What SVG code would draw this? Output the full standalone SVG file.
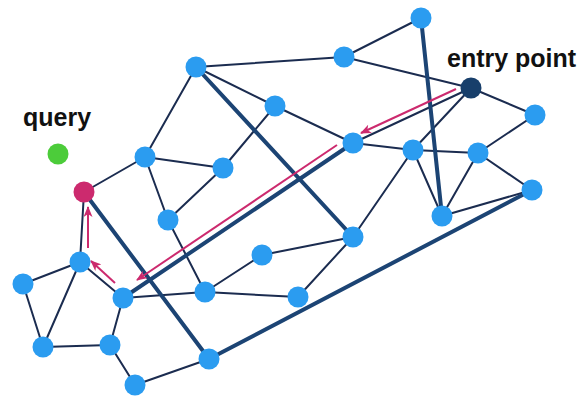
<svg xmlns="http://www.w3.org/2000/svg" width="583" height="397" viewBox="0 0 583 397">
<defs>
<style>
.thin{stroke:#1b2c50;stroke-width:2;fill:none;stroke-linecap:round}
.thick{stroke:#1c4474;stroke-width:4;fill:none;stroke-linecap:round}
.path{stroke:#cc2a6e;stroke-width:2;fill:none}
.n{fill:#2b9cf0}
.lbl{font-family:"Liberation Sans",Arial,sans-serif;font-weight:bold;font-size:25px;fill:#111}
</style>
<marker id="ah" viewBox="0 0 11 9" refX="10" refY="4.5" markerWidth="11" markerHeight="9" markerUnits="userSpaceOnUse" orient="auto">
<path d="M0,0 L11,4.5 L0,9 L3,4.5 Z" fill="#cc2a6e"/>
</marker>
</defs>
<rect width="583" height="397" fill="#fff"/>
<g id="connectors">
<line class="thin" x1="421" y1="18" x2="344" y2="57"/>
<line class="thin" x1="344" y1="57" x2="196" y2="67"/>
<line class="thin" x1="344" y1="57" x2="471" y2="88"/>
<line class="thin" x1="196" y1="67" x2="275" y2="106"/>
<line class="thin" x1="196" y1="67" x2="145" y2="157"/>
<line class="thin" x1="275" y1="106" x2="353" y2="143"/>
<line class="thin" x1="275" y1="106" x2="223" y2="168"/>
<line class="thin" x1="145" y1="157" x2="223" y2="168"/>
<line class="thin" x1="145" y1="157" x2="84" y2="192"/>
<line class="thin" x1="145" y1="157" x2="168" y2="220"/>
<line class="thin" x1="223" y1="168" x2="168" y2="220"/>
<line class="thin" x1="353" y1="143" x2="413" y2="150"/>
<line class="thin" x1="353" y1="143" x2="471" y2="88"/>
<line class="thin" x1="471" y1="88" x2="535" y2="115"/>
<line class="thin" x1="471" y1="88" x2="413" y2="150"/>
<line class="thin" x1="535" y1="115" x2="478" y2="153"/>
<line class="thin" x1="413" y1="150" x2="478" y2="153"/>
<line class="thin" x1="413" y1="150" x2="442" y2="216"/>
<line class="thin" x1="413" y1="150" x2="353" y2="237"/>
<line class="thin" x1="478" y1="153" x2="442" y2="216"/>
<line class="thin" x1="478" y1="153" x2="532" y2="190"/>
<line class="thin" x1="442" y1="216" x2="532" y2="190"/>
<line class="thin" x1="168" y1="220" x2="205" y2="292"/>
<line class="thin" x1="123" y1="298" x2="205" y2="292"/>
<line class="thin" x1="205" y1="292" x2="262" y2="255"/>
<line class="thin" x1="205" y1="292" x2="298" y2="297"/>
<line class="thin" x1="262" y1="255" x2="353" y2="237"/>
<line class="thin" x1="298" y1="297" x2="353" y2="237"/>
<line class="thin" x1="123" y1="298" x2="80" y2="262"/>
<line class="thin" x1="80" y1="262" x2="84" y2="192"/>
<line class="thin" x1="80" y1="262" x2="23" y2="284"/>
<line class="thin" x1="23" y1="284" x2="43" y2="347"/>
<line class="thin" x1="80" y1="262" x2="43" y2="347"/>
<line class="thin" x1="43" y1="347" x2="110" y2="345"/>
<line class="thin" x1="110" y1="345" x2="123" y2="298"/>
<line class="thin" x1="110" y1="345" x2="135" y2="385"/>
<line class="thin" x1="135" y1="385" x2="209" y2="359"/>
<line class="thick" x1="421" y1="18" x2="442" y2="216"/>
<line class="thick" x1="196" y1="67" x2="353" y2="237"/>
<line class="thick" x1="353" y1="143" x2="123" y2="298"/>
<line class="thick" x1="84" y1="192" x2="209" y2="359"/>
<line class="thick" x1="532" y1="190" x2="209" y2="359"/>
</g>
<g id="search-path">
<line class="path" x1="456" y1="89" x2="361" y2="133" marker-end="url(#ah)"/>
<line class="path" x1="337" y1="145" x2="137" y2="280" marker-end="url(#ah)"/>
<line class="path" x1="115" y1="283" x2="91" y2="261" marker-end="url(#ah)"/>
<line class="path" x1="88" y1="248" x2="88" y2="207" marker-end="url(#ah)"/>
</g>
<g id="nA"><circle class="n" cx="421" cy="18" r="10.5"/></g>
<g id="nB"><circle class="n" cx="344" cy="57" r="10.5"/></g>
<g id="nC"><circle class="n" cx="196" cy="67" r="10.5"/></g>
<g id="nD"><circle class="n" cx="275" cy="106" r="10.5"/></g>
<g id="entry"><circle cx="471" cy="88" r="10.5" fill="#183f6b"/><text class="lbl" x="447" y="67">entry point</text></g>
<g id="nF"><circle class="n" cx="535" cy="115" r="10.5"/></g>
<g id="nG"><circle class="n" cx="353" cy="143" r="10.5"/></g>
<g id="nH"><circle class="n" cx="413" cy="150" r="10.5"/></g>
<g id="nI"><circle class="n" cx="478" cy="153" r="10.5"/></g>
<g id="nJ"><circle class="n" cx="145" cy="157" r="10.5"/></g>
<g id="nK"><circle class="n" cx="223" cy="168" r="10.5"/></g>
<g id="result"><circle cx="84" cy="192" r="10.5" fill="#cc2a6e"/></g>
<g id="nM"><circle class="n" cx="532" cy="190" r="10.5"/></g>
<g id="nN"><circle class="n" cx="168" cy="220" r="10.5"/></g>
<g id="nO"><circle class="n" cx="442" cy="216" r="10.5"/></g>
<g id="nP"><circle class="n" cx="353" cy="237" r="10.5"/></g>
<g id="nQ"><circle class="n" cx="262" cy="255" r="10.5"/></g>
<g id="nR"><circle class="n" cx="80" cy="262" r="10.5"/></g>
<g id="nS"><circle class="n" cx="23" cy="284" r="10.5"/></g>
<g id="nT"><circle class="n" cx="123" cy="298" r="10.5"/></g>
<g id="nU"><circle class="n" cx="205" cy="292" r="10.5"/></g>
<g id="nV"><circle class="n" cx="298" cy="297" r="10.5"/></g>
<g id="nW"><circle class="n" cx="43" cy="347" r="10.5"/></g>
<g id="nX"><circle class="n" cx="110" cy="345" r="10.5"/></g>
<g id="nY"><circle class="n" cx="209" cy="359" r="10.5"/></g>
<g id="nZ"><circle class="n" cx="135" cy="385" r="10.5"/></g>
<g id="query"><circle cx="58" cy="154" r="10.5" fill="#4ccc3a"/><text class="lbl" x="23" y="126">query</text></g>
</svg>
